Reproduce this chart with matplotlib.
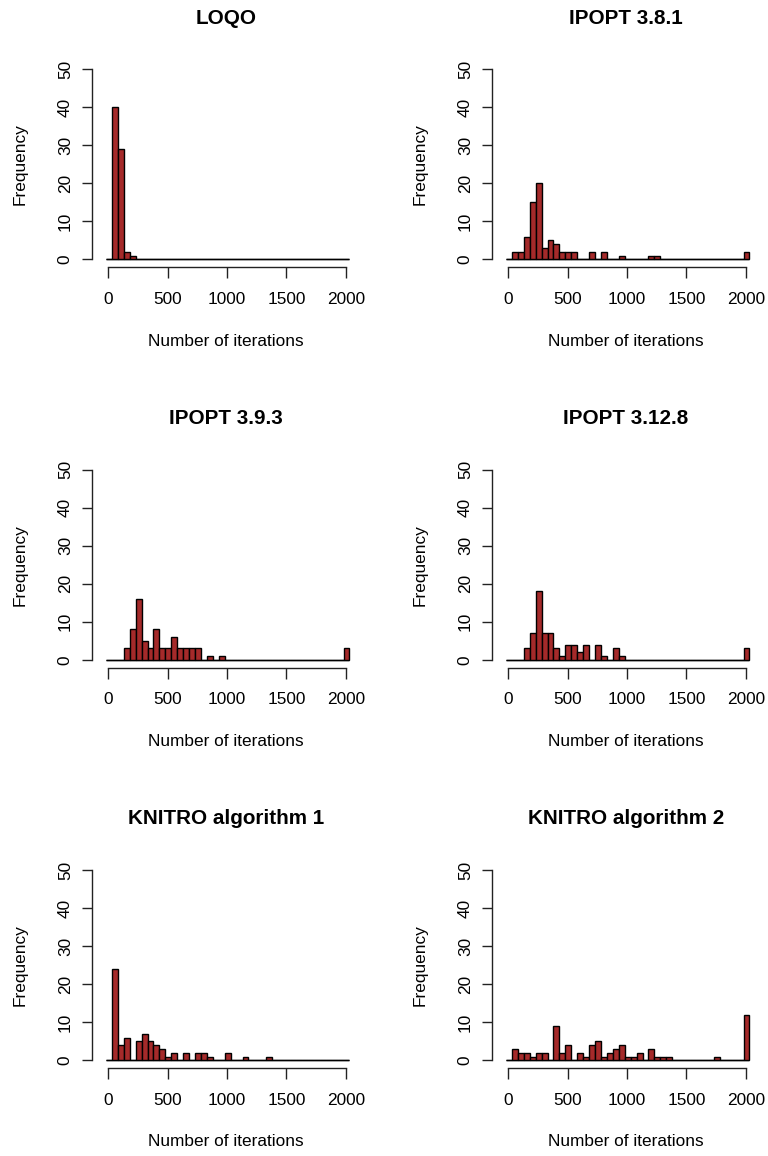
import matplotlib
matplotlib.use("Agg")
import matplotlib.pyplot as plt
import numpy as np

plt.rcParams['font.family'] = ['Liberation Sans', 'DejaVu Sans']

# ---------------- data ----------------
titles = ["LOQO", "IPOPT 3.8.1", "IPOPT 3.9.3", "IPOPT 3.12.8",
          "KNITRO algorithm 1", "KNITRO algorithm 2"]
bin_start = -20
bin_width = 50

loqo = [0, 40, 29, 2, 1] + [0] * 36
ipopt_381 = [0, 2, 2, 6, 15, 20, 3, 5, 4, 2, 2, 2, 0, 0, 2, 0, 2, 0, 0, 1,
             0, 0, 0, 0, 1, 1] + [0] * 14 + [2]
ipopt_393 = [0, 0, 0, 3, 8, 16, 5, 3, 8, 3, 3, 6, 3, 3, 3, 3, 0, 1, 0, 1] \
    + [0] * 20 + [3]
ipopt_3128 = [0, 0, 0, 3, 7, 18, 7, 7, 3, 1, 4, 4, 2, 4, 0, 4, 1, 0, 3, 1] \
    + [0] * 20 + [3]
knitro_1 = [0, 24, 4, 6, 0, 5, 7, 5, 4, 3, 1, 2, 0, 2, 0, 2, 2, 1, 0, 0, 2,
            0, 0, 1, 0, 0, 0, 1] + [0] * 13
knitro_2 = [0, 3, 2, 2, 1, 2, 2, 0, 9, 2, 4, 0, 2, 1, 4, 5, 1, 2, 3, 4, 1, 1,
            2, 0, 3, 1, 1, 1] + [0] * 7 + [1] + [0] * 4 + [12]

series = [loqo, ipopt_381, ipopt_393, ipopt_3128, knitro_1, knitro_2]

x_ticks = [0, 500, 1000, 1500, 2000]
y_ticks = [0, 10, 20, 30, 40, 50]
xlabel = "Number of iterations"
ylabel = "Frequency"

# ---------------- layout ----------------
W, H = 768, 1156
fig = plt.figure(figsize=(W / 100, H / 100), dpi=100)

def fx(px):
    return px / W

def fy(py):
    return 1 - py / H

ax_w, ax_h = 267.0, 205.6
fs_tick = 12.4
fs_title = 14.9

for i, (title, counts) in enumerate(zip(titles, series)):
    r, c = divmod(i, 2)
    left = 92.3 + 400 * c
    top = 61.4 + 400.5 * r
    ax = fig.add_axes([fx(left), fy(top + ax_h), ax_w / W, ax_h / H])
    ax.patch.set_alpha(0)

    edges = bin_start + bin_width * np.arange(len(counts) + 1)
    ax.hlines(0, edges[0], edges[-1], color='black', lw=1.0, zorder=1)
    ax.bar(edges[:-1], counts, width=bin_width, align='edge',
           color='#A52A2A', edgecolor='black', linewidth=1.0, zorder=2)

    ax.set_xlim(-135, 2113)
    ax.set_ylim(-2, 52)
    for s in ('top', 'right'):
        ax.spines[s].set_visible(False)
    ax.spines['left'].set_bounds(0, 50)
    ax.spines['bottom'].set_bounds(0, 2000)
    for s in ('left', 'bottom'):
        ax.spines[s].set_linewidth(1.0)
        ax.spines[s].set_color('#222222')

    ax.set_xticks(x_ticks)
    ax.set_xticklabels([str(t) for t in x_ticks])
    ax.set_yticks(y_ticks)
    ax.set_yticklabels([str(t) for t in y_ticks], rotation=90, va='center')
    ax.tick_params(axis='x', length=7.9, width=1.0, color='#222222',
                   labelsize=fs_tick, pad=10.0)
    ax.tick_params(axis='y', length=7.2, width=1.0, color='#222222',
                   labelsize=fs_tick, pad=6.8)

    cx = left + ax_w / 2
    fig.text(fx(cx), fy(18 + 400.5 * r), title, ha='center', va='center',
             fontsize=fs_title, fontweight='bold')
    fig.text(fx(cx), fy(341 + 400.5 * r), xlabel, ha='center', va='center',
             fontsize=fs_tick)
    fig.text(fx(20 + 400 * c), fy(top + ax_h / 2), ylabel, ha='center',
             va='center', rotation=90, fontsize=fs_tick)

fig.savefig("out.png", dpi=100)
